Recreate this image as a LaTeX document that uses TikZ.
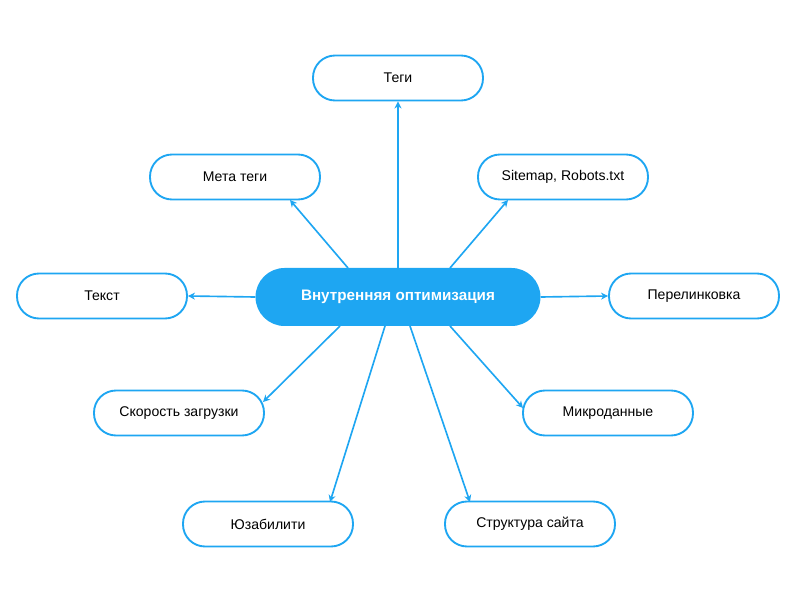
\documentclass[tikz,border=0pt]{standalone}
\usepackage{fontspec}
\setmainfont{Liberation Sans}
\usetikzlibrary{arrows.meta,positioning}
\definecolor{seoblue}{HTML}{1EA6F2}
\begin{document}
\begin{tikzpicture}[x=0.03cm,y=-0.03cm,
		leaf node/.style={draw=seoblue,line width=1.6pt,fill=white,rounded corners=0.66cm,minimum width=5.1cm,minimum height=1.35cm,font=\fontsize{12}{14}\selectfont},
		main node/.style={fill=seoblue,text=white,rounded corners=0.87cm,minimum width=8.55cm,minimum height=1.74cm,font=\fontsize{13}{15}\selectfont\bfseries},
		link/.style={draw=seoblue,line width=1.4pt,-{Stealth[length=6pt,width=6pt]}}]
		\useasboundingbox (0,0) rectangle (800,600);
		
		\node[main node] (c) at (398,297) {Внутренняя оптимизация};
		
		\node[leaf node] (tags) at (398,78) {Теги};
		\node[leaf node] (meta) at (235,177) {Мета теги};
		\node[leaf node] (site) at (563,177) {Sitemap, Robots.txt};
		\node[leaf node] (text) at (102,296) {Текст};
		\node[leaf node] (links) at (694,296) {Перелинковка};
		\node[leaf node] (speed) at (179,413) {Скорость загрузки};
		\node[leaf node] (micro) at (608,413) {Микроданные};
		\node[leaf node] (usab) at (268,524) {Юзабилити};
		\node[leaf node] (struct) at (530,524) {Структура сайта};
		
		\coordinate (s1) at (348,268);
		\coordinate (s2) at (450,268);
		\coordinate (s3) at (340,326);
		\coordinate (s4) at (450,326);
		\coordinate (s5) at (385,326);
		\coordinate (s6) at (410,326);
		
		\draw[link] (c.north) -- (tags.south);
		\draw[link] (s1) -- (290,200);
		\draw[link] (s2) -- (508,200);
		\draw[link] (c.west) -- (text.east);
		\draw[link] (c.east) -- (links.west);
		\draw[link] (s3) -- (263,402);
		\draw[link] (s4) -- (523,408);
		\draw[link] (s5) -- (330,502);
		\draw[link] (s6) -- (470,502);
		\end{tikzpicture}
\end{document}
